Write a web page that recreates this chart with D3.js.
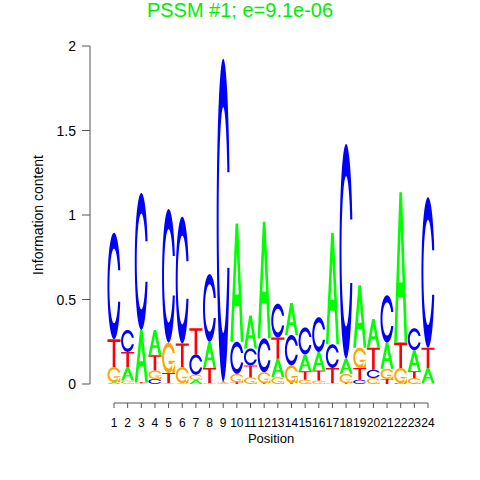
<!DOCTYPE html>
<html>
<head>
<meta charset="utf-8">
<script src="https://cdn.jsdelivr.net/npm/d3@7"></script>
<style>
html,body{margin:0;padding:0;background:#fff;}
text{font-family:"Liberation Sans",Arial,Helvetica,sans-serif;}
</style>
</head>
<body>
<svg id="chart" width="480" height="480"></svg>
<script>
// ---- data (information content per letter, bits) ----
const title = "PSSM #1; e=9.1e-06";
const positions = d3.range(1, 25);
const letters = ["A", "C", "G", "T"];
const valuesA = [0.01,0.08,0.31,0.15,0.005,0.005,0.025,0.155,0.005,0.70,0.195,0.69,0.11,0.19,0.10,0.11,0.66,0.09,0.37,0.17,0.155,0.89,0.125,0.09];
const valuesC = [0.63,0.13,0.81,0.03,0.79,0.75,0.12,0.40,1.91,0.19,0.10,0.20,0.20,0.18,0.16,0.205,0.14,1.27,0.025,0.05,0.28,0.005,0.13,0.89];
const valuesG = [0.09,0.02,0.005,0.05,0.18,0.095,0.03,0.005,0.005,0.05,0.04,0.065,0.04,0.105,0.025,0.02,0.005,0.055,0.12,0.035,0.06,0.09,0.035,0.005];
const valuesT = [0.165,0.09,0.005,0.09,0.06,0.14,0.155,0.09,0.005,0.01,0.07,0.005,0.125,0.005,0.05,0.06,0.09,0.005,0.07,0.13,0.03,0.15,0.04,0.12];
const yTicks = [0, 0.5, 1, 1.5, 2];
const yTickLabels = ["0", "0.5", "1", "1.5", "2"];
const letterColors = {A: "#00FF00", C: "#0000FF", G: "#FFA500", T: "#FF0000"};

const svg = d3.select("#chart");
svg.append("rect").attr("width", 480).attr("height", 480).attr("fill", "#fff");

const x = d3.scaleLinear().domain([1, 24]).range([114, 428]);
const y = d3.scaleLinear().domain([0, 2]).range([384, 46]);
const colW = (x(2) - x(1)) * 0.96;

// letter glyphs in unit box, y up
function glyph(letter) {
  if (letter === "A") return [[[0,0],[.4,1],[.6,1],[1,0],[.8,0],[.68,.3],[.32,.3],[.2,0]],[[.36,.4],[.5,.75],[.64,.4]]];
  if (letter === "T") return [[[0,1],[1,1],[1,.9],[.6,.9],[.6,0],[.4,0],[.4,.9],[0,.9]]];
  const n = 40;
  const a1 = d3.range(n).map(i => 0.3 + Math.PI/2 + (Math.PI/2 - 0.3) * i / (n - 1));
  const a2 = d3.range(n).map(i => Math.PI + 0.5 * Math.PI * i / (n - 1));
  const ang = a1.concat(a2);
  const xl = ang.map(a => 0.5 + 0.5 * Math.sin(a));
  const yl = ang.map(a => 0.5 + 0.5 * Math.cos(a));
  const ymax = 0.5 + 0.5 * Math.cos(a1[0]);
  const outer = xl.map((v, i) => [v, yl[i]]).concat(xl.slice().reverse().map((v, i) => [v, 1 - yl[yl.length - 1 - i]]));
  let xi1 = a1.map(a => 0.5 + 0.35 * Math.sin(a));
  let yi1 = a1.map(a => 0.5 + 0.35 * Math.cos(a));
  const keep = yi1.map(v => v <= ymax);
  xi1 = xi1.filter((v, i) => keep[i]);
  yi1 = yi1.filter((v, i) => keep[i]);
  yi1[0] = ymax;
  const xi = xi1.concat(a2.map(a => 0.5 + 0.35 * Math.sin(a)));
  const yi = yi1.concat(a2.map(a => 0.5 + 0.35 * Math.cos(a)));
  const inner = xi.map((v, i) => [v, yi[i]]).concat(xi.slice().reverse().map((v, i) => [v, 1 - yi[yi.length - 1 - i]]));
  const ring = outer.concat(inner.slice().reverse());
  if (letter === "C") return [ring];
  const r1 = d3.max(xl.slice(0, n));
  const h1 = 0.4;
  const bar = [[r1,h1],[0.5,h1],[0.5,h1-0.1],[r1-0.2,h1-0.1],[r1-0.2,0],[r1,0]];
  return [ring, bar];
}

function letterPath(letter, x0, yBase, w, h) {
  return glyph(letter).map(r => "M" + r.map(p => (x0 + p[0] * w).toFixed(2) + "," + (yBase - p[1] * h).toFixed(2)).join("L") + "Z").join("");
}

const series = {A: valuesA, C: valuesC, G: valuesG, T: valuesT};
const g = svg.append("g");
positions.forEach((pos, i) => {
  const stack = letters.map(l => ({l, v: series[l][i]})).sort((a, b) => a.v - b.v);
  let acc = 0;
  stack.forEach(s => {
    const yb = y(acc);
    const yt = y(acc + s.v);
    acc += s.v;
    if (yb - yt < 0.2) return;
    g.append("path")
      .attr("d", letterPath(s.l, x(pos) - colW / 2, yb, colW, yb - yt))
      .attr("fill", letterColors[s.l])
      .attr("fill-rule", "evenodd");
  });
});

// y axis
const ya = svg.append("g");
ya.append("line").attr("x1", 90).attr("x2", 90).attr("y1", y(0)).attr("y2", y(2)).attr("stroke", "#555");
yTicks.forEach((t, i) => {
  ya.append("line").attr("x1", 82).attr("x2", 90).attr("y1", y(t)).attr("y2", y(t)).attr("stroke", "#555");
  svg.append("text").attr("x", 76).attr("y", y(t)).attr("dy", "0.36em").attr("text-anchor", "end")
    .attr("font-size", 14).attr("fill", "#000").text(yTickLabels[i]);
});
svg.append("text").attr("transform", "translate(43," + y(1) + ") rotate(-90)").attr("text-anchor", "middle")
  .attr("font-size", 14).attr("fill", "#000").text("Information content");

// x axis
const xa = svg.append("g");
xa.append("line").attr("x1", x(1)).attr("x2", x(24)).attr("y1", 403).attr("y2", 403).attr("stroke", "#555");
positions.forEach(p => {
  xa.append("line").attr("x1", x(p)).attr("x2", x(p)).attr("y1", 403).attr("y2", 408).attr("stroke", "#555");
  xa.append("text").attr("x", x(p)).attr("y", 423).attr("dy", "0.36em").attr("text-anchor", "middle")
    .attr("font-size", 12).attr("fill", "#000").text(p);
});
svg.append("text").attr("x", x(12.5)).attr("y", 443).attr("text-anchor", "middle")
  .attr("font-size", 13).attr("fill", "#000").text("Position");

// title
svg.append("text").attr("x", 240).attr("y", 17).attr("text-anchor", "middle")
  .attr("font-size", 20).attr("fill", "#00EE00").text(title);
</script>
</body>
</html>
